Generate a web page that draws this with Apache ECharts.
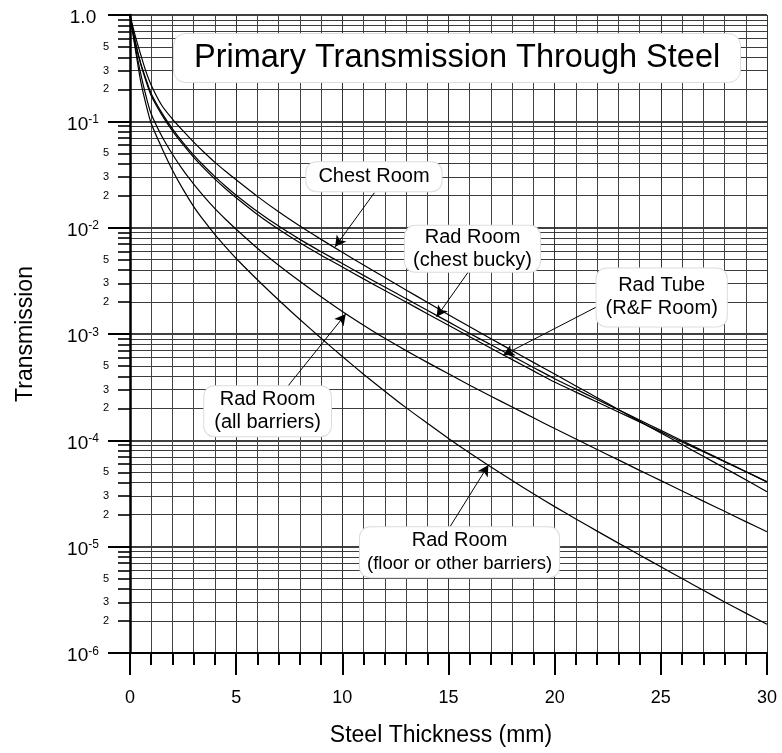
<!DOCTYPE html>
<html><head><meta charset="utf-8">
<script src="https://cdn.jsdelivr.net/npm/echarts@6/dist/echarts.min.js"></script>
<style>html,body{margin:0;padding:0;background:#fff}#c{width:782px;height:753px}</style>
</head><body><div id="c"></div>
<script>
// ---- data (steel thickness in mm, transmission) ----
const thickness = [0,0.25,0.5,0.75,1,1.5,2,2.5,3,3.5,4,4.5,5,6,7,8,9,10,11,12,13,14,15,16,17,18,19,20,21,22,23,24,25,26,27,28,29,30];
const chestRoom = [1,0.631,0.427,0.295,0.219,0.141,0.105,0.0813,0.0638,0.0509,0.0411,0.0339,0.0282,
  0.0197,0.0141,0.01035,0.00776,0.00586,0.00446,0.00340,0.00259,0.00199,0.00152,
  0.00117,9.04e-4,6.98e-4,5.41e-4,4.20e-4,3.25e-4,2.52e-4,1.95e-4,1.51e-4,1.17e-4,
  9.12e-5,7.08e-5,5.50e-5,4.25e-5,3.28e-5];
const chestBucky = [1,0.562,0.355,0.251,0.182,0.120,0.0851,0.0631,0.0482,0.0378,0.0302,0.0245,0.0202,
  0.0142,0.01035,0.00776,0.00594,0.00460,0.00356,0.00277,0.00215,0.00167,0.00130,
  0.00101,7.93e-4,6.19e-4,4.85e-4,3.80e-4,3.03e-4,2.42e-4,1.94e-4,1.55e-4,1.24e-4,
  9.91e-5,7.94e-5,6.35e-5,5.09e-5,4.07e-5];
const radTubeRF = [1,0.550,0.347,0.240,0.174,0.115,0.0813,0.0603,0.0459,0.0359,0.0286,0.0232,0.0191,
  0.0133,0.00966,0.00721,0.00550,0.00427,0.00330,0.00256,0.00200,0.00155,0.00121,
  9.42e-4,7.34e-4,5.74e-4,4.50e-4,3.53e-4,2.84e-4,2.29e-4,1.85e-4,1.49e-4,1.20e-4,
  9.66e-5,7.80e-5,6.28e-5,5.06e-5,4.07e-5];
const allBarriers = [1,0.501,0.282,0.174,0.117,0.0724,0.0490,0.0347,0.0257,0.0195,0.0151,0.0120,0.00966,
  0.00641,0.00444,0.00313,0.00224,0.00163,0.00121,9.10e-4,6.98e-4,5.41e-4,4.22e-4,
  3.30e-4,2.60e-4,2.06e-4,1.63e-4,1.29e-4,1.03e-4,8.20e-5,6.55e-5,5.22e-5,4.18e-5,
  3.34e-5,2.68e-5,2.15e-5,1.72e-5,1.38e-5];
const floorOther = [1,0.479,0.240,0.145,0.0955,0.0562,0.0347,0.0229,0.0158,0.0115,0.00861,0.00661,0.00513,
  0.00324,0.00209,0.00137,9.12e-4,6.14e-4,4.19e-4,2.90e-4,2.03e-4,1.45e-4,1.04e-4,
  7.60e-5,5.61e-5,4.18e-5,3.14e-5,2.38e-5,1.82e-5,1.40e-5,1.08e-5,8.36e-6,6.47e-6,
  5.01e-6,3.89e-6,3.02e-6,2.37e-6,1.86e-6];

// tick labels
const decadeTicks = [1e-6,1e-5,1e-4,1e-3,1e-2,1e-1,1];
const minorMultipliers = [2,3,4,5,6,7,8,9];
const labeledMultipliers = [2,3,5];

// annotation texts
const chestRoomText = ['Chest Room'];
const chestBuckyText = ['Rad Room','(chest bucky)'];
const radTubeText = ['Rad Tube','(R&F Room)'];
const allBarriersText = ['Rad Room','(all barriers)'];
const floorText = ['Rad Room','(floor or other barriers)'];

const FONT = '"Liberation Sans", Arial, Helvetica, sans-serif';

const minorTicks = [];
decadeTicks.slice(0, -1).forEach(d => minorMultipliers.forEach(m => minorTicks.push(m * d)));
const minorLabelTicks = [];
decadeTicks.slice(0, -1).forEach(d => labeledMultipliers.forEach(m => minorLabelTicks.push(m * d)));

function series(name, values, ann) {
  return {
    type: 'line', name: name,
    data: thickness.map((x, i) => [x, values[i]]),
    showSymbol: false, symbol: 'none', smooth: 0.25,
    lineStyle: { color: '#000', width: 1.2 },
    z: 3, silent: true, animation: false,
    markLine: {
      silent: true, animation: false, z: 5,
      symbol: ['none', 'arrow'], symbolSize: [9, 11],
      lineStyle: { color: '#000', width: 1, type: 'solid' },
      label: { show: false },
      data: [[{ coord: ann.from }, { coord: ann.to }]]
    },
    markPoint: {
      silent: true, animation: false, z: 10,
      data: [{
        coord: ann.at, symbol: 'circle', symbolSize: 1,
        itemStyle: { color: 'rgba(0,0,0,0)' },
        label: {
          show: true, position: 'inside',
          formatter: ann.lines.map((t, k) => '{' + (k === 1 && ann.small ? 'c' : 'a') + '|' + t + '}').join('\n'),
          backgroundColor: '#fff', borderColor: '#dcdcdc', borderWidth: 1, borderRadius: 10,
          padding: ann.pad, color: '#000',
          rich: {
            a: { fontSize: 20, lineHeight: 23, fontFamily: FONT, color: '#000', align: 'center' },
            c: { fontSize: 18.5, lineHeight: 23, fontFamily: FONT, color: '#000', align: 'center' }
          }
        }
      }]
    }
  };
}

const chart = echarts.init(document.getElementById('c'), null, { renderer: 'canvas' });
chart.setOption({
  animation: false,
  backgroundColor: '#fff',
  title: {
    text: 'Primary Transmission Through Steel',
    left: 173, top: 33, padding: [7, 21],
    backgroundColor: '#fff', borderColor: '#dcdcdc', borderWidth: 1, borderRadius: 12,
    textStyle: { fontSize: 32.5, fontWeight: 'normal', color: '#000', fontFamily: FONT, lineHeight: 36 }
  },
  grid: { left: 130, right: 15, top: 15, bottom: 100, containLabel: false },
  xAxis: {
    type: 'value', min: 0, max: 30, interval: 5,
    name: 'Steel Thickness (mm)', nameLocation: 'middle', nameGap: 71,
    nameTextStyle: { fontSize: 23, color: '#000', fontFamily: FONT, padding: [0, 15, 0, 0] },
    axisLine: { show: true, onZero: false, lineStyle: { color: '#000', width: 2 } },
    axisTick: { show: true, length: 22, lineStyle: { color: '#000', width: 2 } },
    minorTick: { show: true, splitNumber: 5, length: 12, lineStyle: { color: '#000', width: 2 } },
    axisLabel: { fontSize: 18, color: '#000', margin: 36, fontFamily: FONT },
    splitLine: { show: true, lineStyle: { color: '#333', width: 1 } },
    minorSplitLine: { show: true, lineStyle: { color: '#444', width: 1 } }
  },
  yAxis: [{
    type: 'log', logBase: 10, min: 1e-6, max: 1, position: 'left',
    name: 'Transmission', nameLocation: 'middle', nameGap: 93, nameRotate: 90,
    nameTextStyle: { fontSize: 23, color: '#000', fontFamily: FONT },
    axisLine: { show: true, lineStyle: { color: '#000', width: 2.5 } },
    axisTick: { show: true, length: 22, customValues: decadeTicks, lineStyle: { color: '#000', width: 2 } },
    axisLabel: {
      show: true, margin: 47, align: 'center', customValues: decadeTicks, color: '#000',
      padding: [5, 0, 0, 0],
      formatter: v => v >= 0.999 ? '{b|1.0}' : '{b|10}{s|' + Math.round(Math.log10(v)) + '}',
      rich: {
        b: { fontSize: 19, lineHeight: 20, fontFamily: FONT, color: '#000', verticalAlign: 'bottom' },
        s: { fontSize: 12, lineHeight: 14, fontFamily: FONT, color: '#000', verticalAlign: 'top' }
      }
    },
    splitLine: { show: true, lineStyle: { color: '#000', width: 1.5 } }
  }, {
    type: 'log', logBase: 10, min: 1e-6, max: 1, position: 'left',
    axisLine: { show: false },
    axisTick: { show: true, length: 12, customValues: minorTicks, lineStyle: { color: '#000', width: 1.6 } },
    axisLabel: {
      show: true, margin: 21, customValues: minorLabelTicks, color: '#000', fontSize: 11, fontFamily: FONT,
      formatter: v => String(Math.round(v / Math.pow(10, Math.floor(Math.log10(v) + 1e-9))))
    },
    splitLine: { show: true, lineStyle: { color: '#3c3c3c', width: 1 } }
  }],
  series: [
    series('Chest Room', chestRoom, { lines: chestRoomText, at: [11.49, 0.0302], from: [11.51, 0.0213], to: [9.66, 0.0066], pad: [3, 12] }),
    series('Rad Room (chest bucky)', chestBucky, { lines: chestBuckyText, at: [16.13, 0.00634], from: [15.94, 0.00385], to: [14.44, 0.00145], pad: [0, 8] }),
    series('Rad Tube (R&F Room)', radTubeRF, { lines: radTubeText, at: [25.04, 0.00221], from: [21.98, 0.0018], to: [17.58, 6.33e-4], pad: [6, 9] }),
    series('Rad Room (all barriers)', allBarriers, { lines: allBarriersText, at: [6.48, 1.88e-4], from: [7.35, 3.08e-4], to: [10.16, 1.54e-3], pad: [2, 10] }),
    series('Rad Room (floor or other barriers)', floorOther, { lines: floorText, at: [15.52, 8.86e-6], from: [15.07, 1.54e-5], to: [16.88, 5.85e-5], pad: [2, 7], small: true })
  ]
});
</script></body></html>
